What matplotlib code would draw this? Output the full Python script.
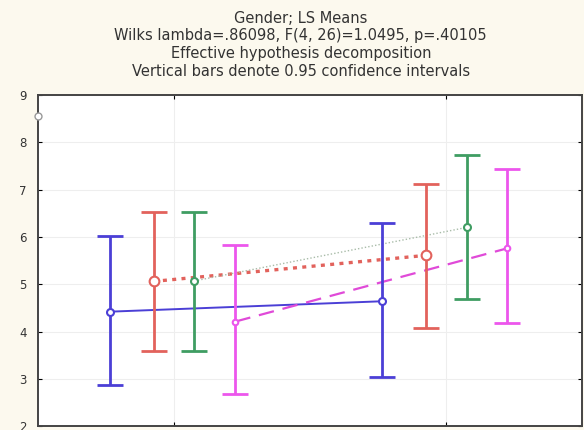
import numpy as np
import matplotlib
matplotlib.use("Agg")
import matplotlib.pyplot as plt

# LS means and 0.95 CI limits, two levels on x
levels = [0, 1]
offsets = [-0.235, -0.075, 0.075, 0.225]
means = {
    'blue': [4.42, 4.64],
    'red': [5.06, 5.61],
    'green': [5.07, 6.20],
    'magenta': [4.21, 5.76],
}
lower = {
    'blue': [2.86, 3.03],
    'red': [3.59, 4.07],
    'green': [3.59, 4.68],
    'magenta': [2.67, 4.17],
}
upper = {
    'blue': [6.01, 6.29],
    'red': [6.53, 7.12],
    'green': [6.53, 7.73],
    'magenta': [5.82, 7.44],
}
colors = {'blue': '#4b3fd6', 'red': '#e2625c', 'green': '#3f9d62', 'magenta': '#ec56ec'}
lines = {
    'blue': dict(color='#4b3fd6', linestyle='-', linewidth=1.4),
    'red': dict(color='#e2625c', linestyle=(0, (1.2, 1.6)), linewidth=2.4),
    'green': dict(color='#a9bca9', linestyle=(0, (1, 1.5)), linewidth=1.0),
    'magenta': dict(color='#e04ad8', linestyle=(0, (7, 4)), linewidth=1.6),
}
msize = {'blue': 5, 'red': 7, 'green': 5, 'magenta': 4}

title = ("Gender; LS Means\n"
         "Wilks lambda=.86098, F(4, 26)=1.0495, p=.40105\n"
         "Effective hypothesis decomposition\n"
         "Vertical bars denote 0.95 confidence intervals")

fig = plt.figure(figsize=(5.84, 4.30), dpi=100)
fig.patch.set_facecolor('#fcf9ee')
ax = fig.add_axes([0.065, 0.009, 0.932, 0.770])
ax.set_facecolor('white')

for key, off in zip(means, offsets):
    x = np.array(levels) + off
    m = np.array(means[key])
    lo = np.array(lower[key])
    hi = np.array(upper[key])
    ax.plot(x, m, **lines[key], zorder=2)
    ax.errorbar(x, m, yerr=[m - lo, hi - m], fmt='none', ecolor=colors[key],
                elinewidth=2.0, capsize=9.5, capthick=2.0, zorder=3)
    ax.plot(x, m, 'o', ms=msize[key], mfc='white', mec=colors[key], mew=1.5, zorder=4)

# stray marker on the left axis
ax.plot([-0.5], [8.55], 'o', ms=5, mfc='white', mec='#999999', mew=1, clip_on=False, zorder=5)

ax.set_xlim(-0.5, 1.5)
ax.set_ylim(2, 9)
ax.set_yticks(range(2, 10))
ax.set_xticks(levels)
ax.set_xticklabels([])
ax.tick_params(axis='y', labelsize=8.5, labelcolor='#333333', direction='in', length=3,
               right=True, pad=8)
ax.tick_params(axis='x', direction='in', length=3, top=True)
ax.grid(True, color='#eeeeee', linewidth=0.8)
for s in ax.spines.values():
    s.set_color('#444444')
    s.set_linewidth(1.4)

fig.text(0.515, 0.975, title, ha='center', va='top', fontsize=10.5,
         color='#333333', linespacing=1.22, family='DejaVu Sans')

fig.savefig('out.png', dpi=100, facecolor=fig.get_facecolor())
